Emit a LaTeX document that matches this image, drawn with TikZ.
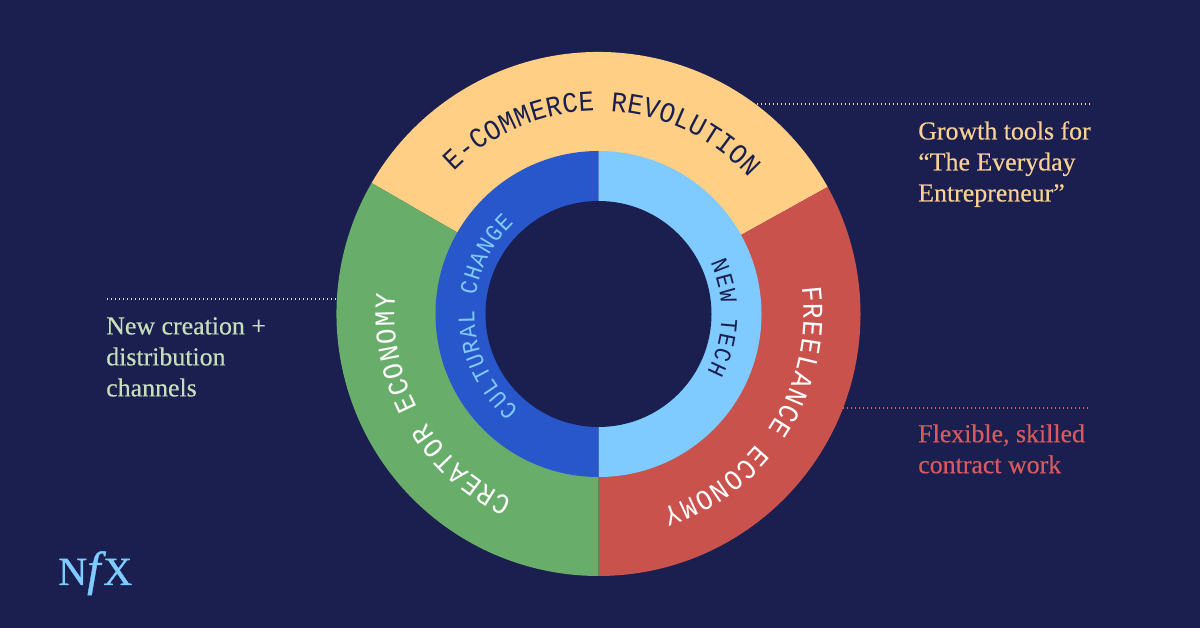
\documentclass[tikz,border=0pt]{standalone}
\usepackage{fontspec}
\setmainfont{Liberation Serif}
\newfontfamily\ringfont[FakeStretch=0.9]{Liberation Mono}
\newfontfamily\labelfont[FakeBold=0.4]{Liberation Serif}
\newfontfamily\logofont[FakeBold=0.8]{Liberation Serif}
\usetikzlibrary{decorations.text}
\definecolor{bgnavy}{HTML}{1A1F4F}
\definecolor{sunny}{HTML}{FFCF85}
\definecolor{leaf}{HTML}{69AD6B}
\definecolor{brick}{HTML}{C9524D}
\definecolor{royal}{HTML}{2857CC}
\definecolor{sky}{HTML}{7FCBFF}
\definecolor{labelcream}{HTML}{FBD193}
\definecolor{labelgreen}{HTML}{C8DEBB}
\definecolor{labelred}{HTML}{D85A5F}
\tikzset{
  leader/.style={line width=1.3pt,dash pattern=on 1.1pt off 1.9pt},
  side/.style={inner sep=0pt,anchor=north west,align=left,font=\labelfont\fontsize{19.4}{23.25}\selectfont},
}
\newcommand{\ringtext}[6]{% radius, start, end, size, colour, text
  \path[decorate,decoration={text along path,text align={fit to path},
    text={|\ringfont\fontsize{#4}{#4}\selectfont\color{#5}|#6}}]
    (#2:#1) arc[start angle=#2,end angle=#3,radius=#1];}
\begin{document}
\begin{tikzpicture}[x=0.75pt,y=0.75pt]
\useasboundingbox (0,0) rectangle (1200,628);
\fill[bgnavy] (0,0) rectangle (1200,628);
\begin{scope}[shift={(598.5,314)}]
  \fill[sunny] (0,0) -- (29:262) arc[start angle=29,end angle=150,radius=262] -- cycle;
  \fill[brick] (0,0) -- (-90:262) arc[start angle=-90,end angle=29,radius=262] -- cycle;
  \fill[leaf]  (0,0) -- (150:262) arc[start angle=150,end angle=270,radius=262] -- cycle;
  \fill[sky]   (0,0) -- (-90:163) arc[start angle=-90,end angle=90,radius=163] -- cycle;
  \fill[royal] (0,0) -- (90:163) arc[start angle=90,end angle=270,radius=163] -- cycle;
  \fill[bgnavy] (0,0) circle[radius=113];
  \ringtext{203}{135.5}{42.2}{21.5}{bgnavy}{E-COMMERCE REVOLUTION}
  \ringtext{205}{7.5}{-72}{21.5}{white}{FREELANCE ECONOMY}
  \ringtext{204}{245}{174.5}{21.5}{white}{CREATOR ECONOMY}
  \ringtext{124}{230}{133}{18}{sky}{CULTURAL CHANGE}
  \ringtext{123}{24.5}{-28}{18}{bgnavy}{NEW TECH}
\end{scope}
\coordinate (l1a) at (757,524);
\coordinate (l1b) at (1091,524);
\coordinate (l2a) at (107,329);
\coordinate (l2b) at (336,329);
\coordinate (l3a) at (843,220);
\coordinate (l3b) at (1091,220);
\draw[leader,labelcream] (l1a) -- (l1b);
\draw[leader,labelgreen] (l2a) -- (l2b);
\draw[leader,labelred] (l3a) -- (l3b);
\node[side,text=labelcream] (growth) at (918,507) {Growth tools for\\“The Everyday\\Entrepreneur”};
\node[side,text=labelgreen] (creation) at (106,311) {New creation +\\distribution\\channels};
\node[side,text=labelred] (flexible) at (918,204) {Flexible, skilled\\contract work};
\node[inner sep=0pt,anchor=base west,text=sky,font=\logofont\fontsize{30}{30}\selectfont] (logo) at (58,43) {N{\fontsize{36}{36}\selectfont\textit{f}}\kern-2pt X};
\end{tikzpicture}
\end{document}
